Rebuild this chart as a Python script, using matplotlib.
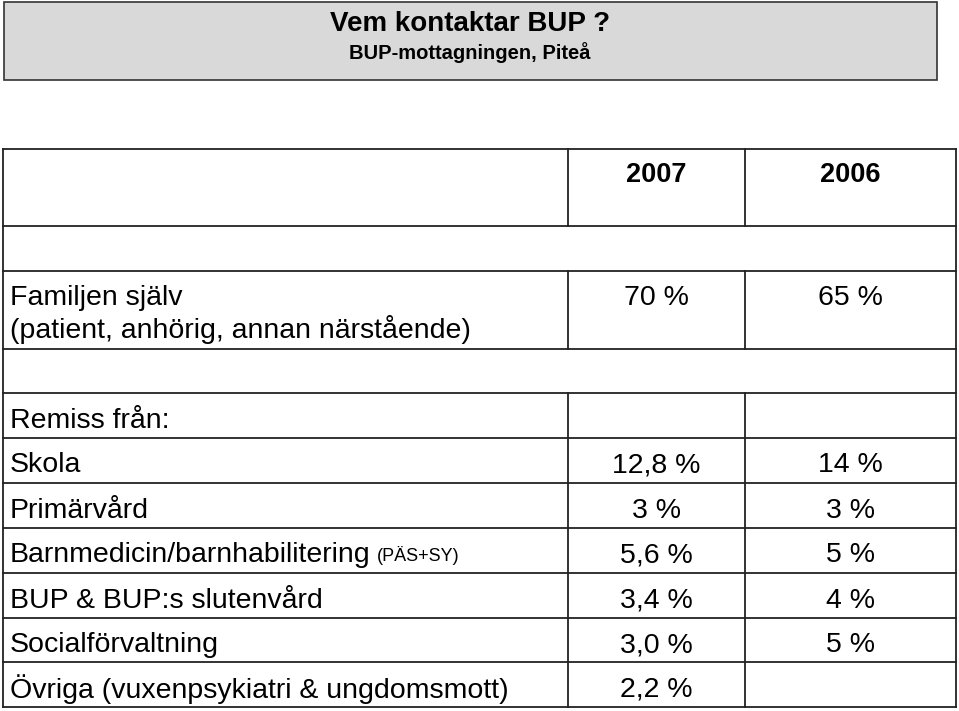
import matplotlib
matplotlib.use("Agg")
import matplotlib.pyplot as plt
from matplotlib.patches import Rectangle

plt.rcParams["font.family"] = "Liberation Sans"

title = "Vem kontaktar BUP ?"
subtitle = "BUP-mottagningen, Piteå"
years = ["2007", "2006"]
categories = ["Skola", "Primärvård", "Barnmedicin/barnhabilitering",
              "BUP & BUP:s slutenvård", "Socialförvaltning",
              "Övriga (vuxenpsykiatri & ungdomsmott)"]
values_2007 = ["12,8 %", "3 %", "5,6 %", "3,4 %", "3,0 %", "2,2 %"]
values_2006 = ["14 %", "3 %", "5 %", "4 %", "5 %", ""]
family_label = ["Familjen själv", "(patient, anhörig, annan närstående)"]
family_values = ["70 %", "65 %"]

fig = plt.figure(figsize=(9.59, 7.11), dpi=100)
ax = fig.add_axes([0, 0, 1, 1])
ax.set_xlim(0, 959); ax.set_ylim(711, 0); ax.axis("off")

ax.add_patch(Rectangle((4, 2), 933, 78, facecolor="#d9d9d9", edgecolor="#333333", lw=1.2))
ax.text(470, 21, title, ha="center", va="center_baseline", fontsize=20, fontweight="bold")
ax.text(470, 51, subtitle, ha="center", va="center_baseline", fontsize=14.5, fontweight="bold")

L, C1, C2, R = 3, 568, 745, 956
lw = 1.3; col = "#222222"
rows = [149, 226, 271, 349, 393, 438, 483, 528, 573, 618, 662, 707]
for y in rows:
    ax.plot([L, R], [y, y], color=col, lw=lw)
ax.plot([L, L], [149, 707], color=col, lw=lw)
ax.plot([R, R], [149, 707], color=col, lw=lw)
for a, b in [(149, 226), (271, 349), (393, 707)]:
    for x in (C1, C2):
        ax.plot([x, x], [a, b], color=col, lw=lw)

c1 = (C1 + C2) / 2; c2 = (C2 + R) / 2
fs = 20.5
ax.text(c1, 172, years[0], ha="center", va="center_baseline", fontsize=19.5, fontweight="bold")
ax.text(c2, 172, years[1], ha="center", va="center_baseline", fontsize=19.5, fontweight="bold")
ax.text(10, 295, family_label[0], ha="left", va="center_baseline", fontsize=fs)
ax.text(10, 327, family_label[1], ha="left", va="center_baseline", fontsize=fs)
ax.text(c1, 295, family_values[0], ha="center", va="center_baseline", fontsize=fs)
ax.text(c2, 295, family_values[1], ha="center", va="center_baseline", fontsize=fs)
ax.text(10, 418, "Remiss från:", ha="left", va="center_baseline", fontsize=fs)

fig.canvas.draw()
for i, cat in enumerate(categories):
    yc = (rows[5 + i] + rows[6 + i]) / 2 + 2
    t = ax.text(10, yc, cat, ha="left", va="center_baseline", fontsize=fs)
    if i == 2:
        bb = t.get_window_extent(renderer=fig.canvas.get_renderer())
        x_end = ax.transData.inverted().transform((bb.x1, 0))[0]
        ax.text(x_end + 6, yc + 1, "(PÄS+SY)", ha="left", va="center_baseline", fontsize=13)
    ax.text(c1, yc, values_2007[i], ha="center", va="center_baseline", fontsize=fs)
    ax.text(c2, yc, values_2006[i], ha="center", va="center_baseline", fontsize=fs)

fig.savefig("out.png", dpi=100)
